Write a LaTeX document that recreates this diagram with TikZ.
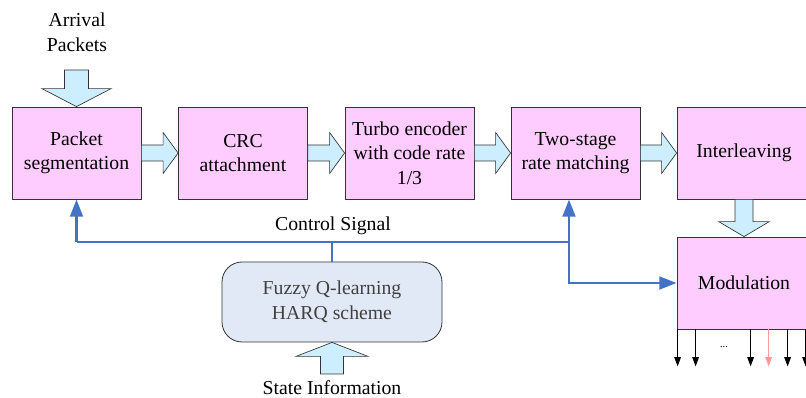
\documentclass[tikz,border=0pt]{standalone}
\usepackage{fontspec}
\setmainfont{Liberation Serif}
\usepackage{tikz}
\usetikzlibrary{arrows.meta, positioning, calc}
\definecolor{boxpink}{RGB}{255, 204, 255}
\definecolor{arrowblue}{RGB}{204, 238, 255}
\definecolor{ctrlblue}{RGB}{68, 114, 196}
\definecolor{fuzzyfill}{RGB}{226, 233, 246}

\tikzset{
  block/.style={draw=black!80, fill=boxpink, line width=0.6pt, minimum width=96.75pt, minimum height=69pt, align=center, inner sep=2pt},
  fatarrow/.style={draw=black!80, fill=arrowblue, line width=0.5pt, line join=miter},
  ctrl/.style={draw=ctrlblue, line width=2.2pt},
  ctrltip/.style={-{Triangle[length=13pt,width=9.5pt]}},
  outarrow/.style={draw=black, line width=0.8pt, -{Triangle[length=7pt,width=5pt]}},
  txt/.style={align=center, inner sep=0pt}
}

% wide block arrow from #1 to #2: shaft half width, head half width, head length
\newcommand{\fatarrow}[5]{%
  \path ($(#2)!#5!(#1)$) coordinate (fa-base);
  \draw[fatarrow] ($(#1)!#3!90:(#2)$) -- ($(fa-base)!#3!90:(#2)$) -- ($(fa-base)!#4!90:(#2)$)
    -- (#2) -- ($(fa-base)!#4!-90:(#2)$) -- ($(fa-base)!#3!-90:(#2)$) -- ($(#1)!#3!-90:(#2)$) -- cycle;}

\begin{document}
\begin{tikzpicture}[x=0.75pt, y=-0.75pt, font=\fontsize{14.8}{18.4}\selectfont]
  \clip (0,0) rectangle (806,398);

  % Processing chain
  \node[block] (seg) at (76.5,153) {Packet\\segmentation};
  \node[block] (crc) at (243,153) {CRC\\attachment};
  \node[block] (turbo) at (409.5,153) {Turbo encoder\\with code rate\\1/3};
  \node[block] (rm) at (575.5,153) {Two-stage\\rate matching};
  \node[block, minimum width=100.5pt] (inter) at (744,153) {Interleaving};
  \node[block, minimum width=100.5pt] (mod) at (744,283) {Modulation};

  % Fuzzy controller
  \node[draw=black!80, fill=fuzzyfill, rounded corners=15pt, line width=0.6pt, minimum width=165pt, minimum height=60pt, align=center, text=black!75] (fuzzy) at (332,302) {Fuzzy Q-learning\\HARQ scheme};

  % Texts
  \node[txt] (arrival) at (77,32) {Arrival\\Packets};
  \node[txt] (ctrltext) at (333,226) {Control Signal};
  \node[txt] (state) at (332,388) {State Information};
  \node[txt, font=\fontsize{8}{8}\selectfont] (dots) at (724,347) {...};

  % Block arrows
  \coordinate (arr-in) at (76.5,70);
  \fatarrow{arr-in}{seg.north}{9pt}{26pt}{13.5pt}
  \fatarrow{seg.east}{crc.west}{6pt}{15.4pt}{11.25pt}
  \fatarrow{crc.east}{turbo.west}{6pt}{15.4pt}{11.25pt}
  \fatarrow{turbo.east}{rm.west}{6pt}{15.4pt}{11.25pt}
  \fatarrow{rm.east}{inter.west}{6pt}{15.4pt}{11.25pt}
  \fatarrow{inter.south}{mod.north}{6.75pt}{19pt}{11.25pt}
  \coordinate (state-in) at (332,374);
  \fatarrow{state-in}{fuzzy.south}{8.6pt}{27pt}{10.5pt}

  % Control signal
  \coordinate (cs) at (332,242);
  \coordinate (csL) at (seg.south |- cs);
  \coordinate (csR) at (569,242);
  \draw[ctrl] (fuzzy.north) -- (cs);
  \draw[ctrl] (csL) -- (csR);
  \draw[ctrl, ctrltip] (csL) -- (seg.south);
  \draw[ctrl, ctrltip] (csR) -- (csR |- rm.south);
  \draw[ctrl, ctrltip] (csR) |- (mod.west);

  % Outputs
  \foreach \dx in {1,19,74,111,129}
    \draw[outarrow] ($(mod.south west)+(\dx,0)$) -- ++(0,37);
  \draw[outarrow, draw=red!40, -{Triangle[length=7pt,width=5pt,fill=red!40]}] ($(mod.south west)+(92,0)$) -- ++(0,37);
\end{tikzpicture}
\end{document}
